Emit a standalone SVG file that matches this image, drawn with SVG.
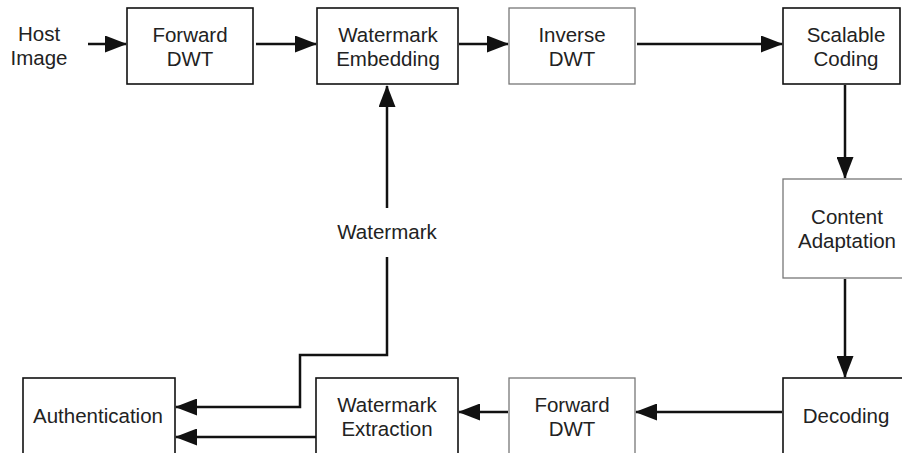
<svg xmlns="http://www.w3.org/2000/svg" width="902" height="453" viewBox="0 0 902 453">
<defs>
<style>
text{font-family:"Liberation Sans",Arial,sans-serif;font-size:20.5px;fill:#222;text-anchor:middle}
.b{fill:#fff;stroke:#111;stroke-width:1.6}
.g{fill:#fff;stroke:#777;stroke-width:1.3}
.c{fill:none;stroke:#111;stroke-width:2.5}
</style>
<marker id="ah" markerUnits="userSpaceOnUse" markerWidth="22" markerHeight="17" refX="21" refY="8.5" orient="auto">
<path d="M0,0 L22,8.5 L0,17 z" fill="#111"/>
</marker>
</defs>
<rect width="902" height="453" fill="#fff"/>
<g id="connectors">
<path class="c" d="M88,44 H126" marker-end="url(#ah)"/>
<path class="c" d="M256,44 H316" marker-end="url(#ah)"/>
<path class="c" d="M459,44 H508" marker-end="url(#ah)"/>
<path class="c" d="M637,44 H782" marker-end="url(#ah)"/>
<path class="c" d="M845,85 V178" marker-end="url(#ah)"/>
<path class="c" d="M845,279 V377" marker-end="url(#ah)"/>
<path class="c" d="M782,412 H636" marker-end="url(#ah)"/>
<path class="c" d="M508,412 H459" marker-end="url(#ah)"/>
<path class="c" d="M316,437 H176" marker-end="url(#ah)"/>
<path class="c" d="M387,208 V86" marker-end="url(#ah)"/>
<path class="c" d="M387,257 V355 H300 V407 H176" marker-end="url(#ah)"/>
</g>
<g id="host-image">
<text x="39" y="41">Host</text>
<text x="39" y="65">Image</text>
</g>
<g id="forward-dwt-1">
<rect class="b" x="127" y="8" width="126" height="76"/>
<text x="190" y="42">Forward</text>
<text x="190" y="66">DWT</text>
</g>
<g id="watermark-embedding">
<rect class="b" x="317" y="8" width="141" height="76"/>
<text x="388" y="42">Watermark</text>
<text x="388" y="66">Embedding</text>
</g>
<g id="inverse-dwt">
<rect class="g" x="509" y="8" width="126" height="76"/>
<text x="572" y="42">Inverse</text>
<text x="572" y="66">DWT</text>
</g>
<g id="scalable-coding">
<rect class="b" x="783" y="8" width="117" height="76"/>
<text x="846" y="42">Scalable</text>
<text x="846" y="66">Coding</text>
</g>
<g id="content-adaptation">
<rect class="g" x="783" y="179" width="130" height="99"/>
<text x="847" y="224">Content</text>
<text x="847" y="248">Adaptation</text>
</g>
<g id="decoding">
<rect class="b" x="783" y="378" width="130" height="90"/>
<text x="846" y="423">Decoding</text>
</g>
<g id="forward-dwt-2">
<rect class="g" x="509" y="378" width="126" height="90"/>
<text x="572" y="412">Forward</text>
<text x="572" y="436">DWT</text>
</g>
<g id="watermark-extraction">
<rect class="b" x="316" y="378" width="142" height="90"/>
<text x="387" y="412">Watermark</text>
<text x="387" y="436">Extraction</text>
</g>
<g id="authentication">
<rect class="b" x="23" y="378" width="152" height="90"/>
<text x="98" y="423">Authentication</text>
</g>
<g id="watermark-label">
<text x="387" y="239">Watermark</text>
</g>
</svg>
